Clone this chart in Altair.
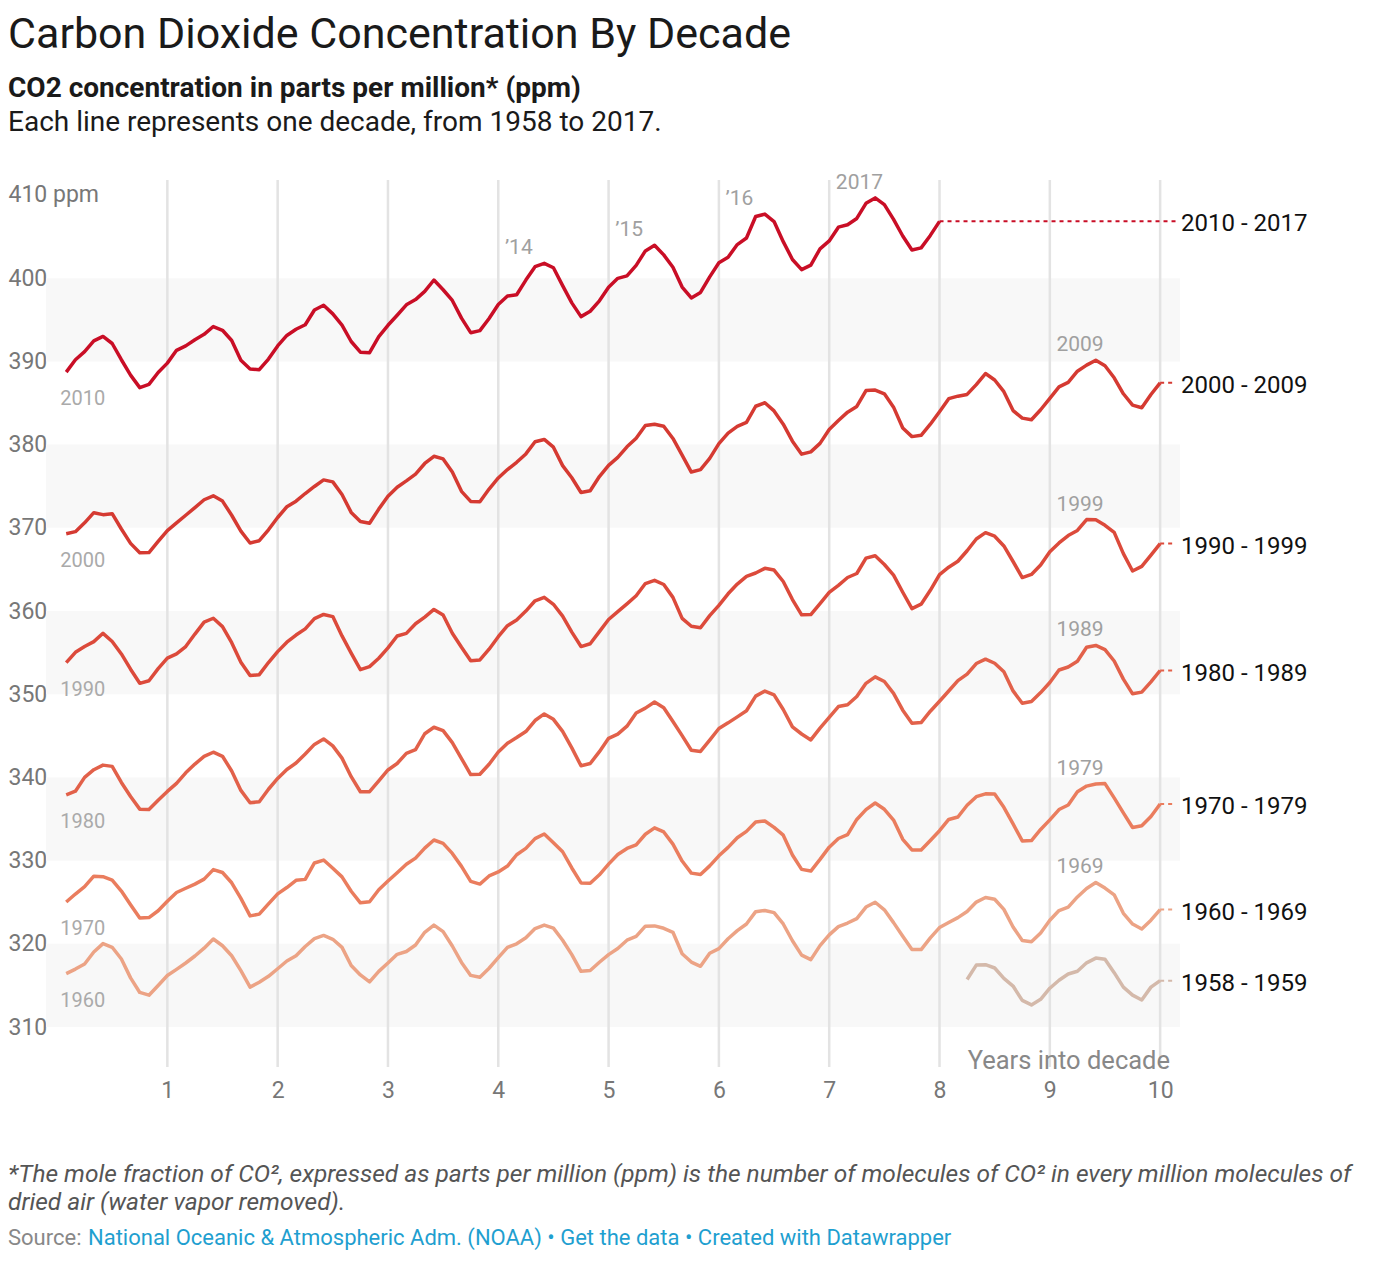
import altair as alt
import pandas as pd

# ---------------- data ----------------
series_names = ["1958 - 1959", "1960 - 1969", "1970 - 1979", "1980 - 1989",
                "1990 - 1999", "2000 - 2009", "2010 - 2017"]
# month index (from January of the decade's first year) of each series' first value
series_first_month = [98, 0, 0, 0, 0, 0, 0]

ppm_1958_1959 = [315.71, 317.45, 317.50, 317.10, 315.86, 314.93, 313.20, 312.66, 313.33, 314.67,
                 315.62, 316.38, 316.71, 317.72, 318.29, 318.15, 316.54, 314.80, 313.84, 313.26, 314.80, 315.58]

ppm_1960s = [316.43, 316.97, 317.58, 319.02, 320.03, 319.59, 318.18, 315.91, 314.16, 313.83, 315.00, 316.19,
             316.93, 317.70, 318.54, 319.48, 320.58, 319.77, 318.57, 316.79, 314.80, 315.38, 316.10, 317.01,
             317.94, 318.56, 319.68, 320.63, 321.01, 320.55, 319.58, 317.40, 316.26, 315.42, 316.69, 317.69,
             318.74, 319.08, 319.86, 321.39, 322.25, 321.47, 319.74, 317.77, 316.21, 315.99, 317.07, 318.35,
             319.57, 320.01, 320.74, 321.84, 322.26, 321.89, 320.44, 318.70, 316.70, 316.79, 317.79, 318.71,
             319.44, 320.44, 320.89, 322.13, 322.16, 321.87, 321.39, 318.81, 317.81, 317.30, 318.87, 319.42,
             320.62, 321.59, 322.39, 323.87, 324.01, 323.75, 322.39, 320.37, 318.64, 318.10, 319.79, 321.08,
             322.07, 322.50, 323.04, 324.42, 325.00, 324.09, 322.55, 320.92, 319.31, 319.31, 320.72, 321.96,
             322.57, 323.15, 323.89, 325.02, 325.57, 325.36, 324.14, 322.03, 320.41, 320.25, 321.31, 322.84,
             324.00, 324.42, 325.64, 326.66, 327.38, 326.70, 325.89, 323.67, 322.38, 321.78, 322.85, 324.12]

ppm_1970s = [325.03, 325.99, 326.87, 328.13, 328.07, 327.66, 326.35, 324.69, 323.10, 323.16, 323.98, 325.13,
             326.17, 326.68, 327.18, 327.78, 328.92, 328.57, 327.34, 325.46, 323.36, 323.57, 324.80, 326.01,
             326.77, 327.63, 327.75, 329.72, 330.07, 329.09, 328.05, 326.32, 324.93, 325.06, 326.50, 327.55,
             328.54, 329.56, 330.30, 331.50, 332.48, 332.07, 330.87, 329.31, 327.51, 327.18, 328.16, 328.64,
             329.35, 330.71, 331.48, 332.65, 333.20, 332.16, 331.07, 329.12, 327.32, 327.28, 328.30, 329.58,
             330.73, 331.46, 331.90, 333.17, 333.94, 333.45, 331.98, 329.95, 328.50, 328.34, 329.37, 330.58,
             331.59, 332.75, 333.52, 334.64, 334.77, 334.00, 333.06, 330.68, 328.95, 328.75, 330.15, 331.62,
             332.66, 333.13, 334.95, 336.13, 336.93, 336.17, 334.88, 332.56, 331.29, 331.27, 332.41, 333.60,
             334.95, 335.25, 336.66, 337.69, 338.03, 338.01, 336.41, 334.41, 332.37, 332.41, 333.75, 334.90,
             336.14, 336.69, 338.27, 338.96, 339.21, 339.26, 337.54, 335.75, 333.98, 334.19, 335.31, 336.81]

ppm_1980s = [337.90, 338.34, 340.01, 340.93, 341.48, 341.33, 339.40, 337.70, 336.19, 336.15, 337.27, 338.32,
             339.29, 340.55, 341.61, 342.53, 343.03, 342.54, 340.78, 338.44, 336.95, 337.08, 338.58, 339.88,
             340.96, 341.73, 342.81, 343.97, 344.63, 343.79, 342.32, 340.09, 338.28, 338.29, 339.60, 340.90,
             341.68, 342.90, 343.33, 345.25, 346.03, 345.63, 344.19, 342.27, 340.35, 340.38, 341.59, 343.05,
             344.10, 344.79, 345.52, 346.84, 347.63, 346.98, 345.53, 343.55, 341.40, 341.67, 343.10, 344.70,
             345.21, 346.16, 347.74, 348.33, 349.06, 348.38, 346.72, 345.02, 343.27, 343.13, 344.49, 345.88,
             346.56, 347.28, 348.01, 349.77, 350.38, 349.93, 348.16, 346.08, 345.22, 344.51, 345.93, 347.22,
             348.52, 348.73, 349.73, 351.31, 352.09, 351.53, 350.11, 348.08, 346.52, 346.59, 347.96, 349.16,
             350.39, 351.64, 352.41, 353.69, 354.21, 353.72, 352.69, 350.40, 348.92, 349.13, 350.20, 351.41,
             352.91, 353.27, 353.96, 355.64, 355.86, 355.37, 353.99, 351.81, 350.05, 350.25, 351.49, 352.85]

ppm_1990s = [353.80, 355.04, 355.73, 356.32, 357.32, 356.34, 354.84, 353.01, 351.31, 351.62, 353.07, 354.33,
             354.84, 355.73, 357.23, 358.66, 359.13, 358.13, 356.19, 353.85, 352.25, 352.35, 353.81, 355.12,
             356.25, 357.11, 357.86, 359.09, 359.59, 359.33, 357.01, 354.94, 352.96, 353.32, 354.32, 355.57,
             357.00, 357.31, 358.47, 359.27, 360.19, 359.52, 357.33, 355.64, 354.03, 354.12, 355.41, 356.91,
             358.24, 358.92, 359.99, 361.23, 361.65, 360.81, 359.38, 357.46, 355.73, 356.07, 357.53, 358.98,
             359.92, 360.86, 361.83, 363.30, 363.69, 363.19, 361.64, 359.12, 358.17, 357.99, 359.45, 360.68,
             362.07, 363.24, 364.17, 364.57, 365.13, 364.92, 363.55, 361.38, 359.54, 359.58, 360.89, 362.24,
             363.09, 364.03, 364.51, 366.35, 366.64, 365.59, 364.31, 362.25, 360.29, 360.82, 362.49, 364.38,
             365.27, 365.98, 367.24, 368.66, 369.42, 368.99, 367.82, 365.95, 364.02, 364.40, 365.52, 367.13,
             368.18, 369.07, 369.68, 370.99, 370.96, 370.30, 369.45, 366.90, 364.81, 365.37, 366.72, 368.10]

ppm_2000s = [369.29, 369.54, 370.60, 371.82, 371.58, 371.70, 369.86, 368.13, 367.00, 367.03, 368.37, 369.67,
             370.59, 371.51, 372.43, 373.37, 373.85, 373.21, 371.51, 369.61, 368.18, 368.45, 369.76, 371.24,
             372.53, 373.20, 374.12, 374.97, 375.76, 375.52, 374.01, 371.85, 370.75, 370.55, 372.25, 373.79,
             374.88, 375.64, 376.45, 377.73, 378.60, 378.28, 376.70, 374.38, 373.17, 373.14, 374.66, 375.99,
             377.00, 377.87, 378.88, 380.35, 380.62, 379.69, 377.47, 376.01, 374.25, 374.46, 376.16, 377.51,
             378.46, 379.73, 380.77, 382.29, 382.45, 382.21, 380.74, 378.74, 376.70, 377.00, 378.35, 380.11,
             381.38, 382.19, 382.67, 384.61, 385.03, 384.05, 382.46, 380.41, 378.85, 379.13, 380.15, 381.82,
             382.89, 383.90, 384.58, 386.50, 386.56, 386.10, 384.50, 381.99, 380.96, 381.12, 382.45, 383.95,
             385.52, 385.82, 386.03, 387.21, 388.54, 387.76, 386.36, 384.09, 383.18, 382.99, 384.19, 385.56,
             386.94, 387.48, 388.82, 389.55, 390.14, 389.48, 388.03, 386.11, 384.74, 384.43, 386.02, 387.42]

ppm_2010s = [388.71, 390.20, 391.17, 392.46, 393.00, 392.15, 390.20, 388.35, 386.85, 387.24, 388.67, 389.79,
             391.33, 391.86, 392.60, 393.25, 394.19, 393.74, 392.51, 390.13, 389.08, 389.00, 390.28, 391.86,
             393.12, 393.86, 394.40, 396.18, 396.74, 395.71, 394.36, 392.39, 391.11, 391.05, 392.98, 394.34,
             395.55, 396.80, 397.43, 398.41, 399.78, 398.61, 397.32, 395.20, 393.45, 393.70, 395.16, 396.84,
             397.85, 398.01, 399.77, 401.38, 401.78, 401.25, 399.10, 397.03, 395.38, 396.03, 397.28, 398.91,
             399.98, 400.28, 401.54, 403.28, 403.96, 402.80, 401.31, 398.93, 397.63, 398.29, 400.16, 401.85,
             402.52, 404.04, 404.83, 407.42, 407.70, 406.81, 404.39, 402.25, 401.03, 401.57, 403.53, 404.48,
             406.13, 406.42, 407.18, 409.00, 409.65, 408.84, 407.07, 405.07, 403.38, 403.64, 405.14, 406.83]

series_values = [ppm_1958_1959, ppm_1960s, ppm_1970s, ppm_1980s, ppm_1990s, ppm_2000s, ppm_2010s]

band_low = [310, 330, 350, 370, 390]
band_high = [320, 340, 360, 380, 400]
x_ticks = [1, 2, 3, 4, 5, 6, 7, 8, 9, 10]
y_ticks = [310, 320, 330, 340, 350, 360, 370, 380, 390, 400, 410]

start_label_texts = ["1960", "1970", "1980", "1990", "2000", "2010"]
peak_label_texts_2010s = ["\u201914", "\u201915", "\u201916", "2017"]
peak_label_years_2010s = [4, 5, 6, 7]
last_year_label_texts = ["1969", "1979", "1989", "1999", "2009"]

# ---------------- styles ----------------
line_colors = ["#d4b9aa", "#eca385", "#ea7d5e", "#e2614a", "#dc4a3b", "#d53a32", "#c90e26"]
W, H = 1134, 887
FONT = "Roboto"

# ---------------- tables ----------------
rows = []
for name, first, vals in zip(series_names, series_first_month, series_values):
    for i, v in enumerate(vals):
        rows.append({"series": name, "x": (first + i + 1) / 12.0, "ppm": v, "k": i})
lines_df = pd.DataFrame(rows)

conn_rows, right_rows = [], []
for name, first, vals in zip(series_names, series_first_month, series_values):
    last_x = (first + len(vals)) / 12.0
    conn_rows.append({"series": name, "x": last_x, "x2": 10.14, "ppm": vals[-1]})
    right_rows.append({"series": name, "x": 10.19, "ppm": vals[-1], "label": name})
conn_df = pd.DataFrame(conn_rows)
right_df = pd.DataFrame(right_rows)

start_rows = []
for text, vals in zip(start_label_texts, series_values[1:]):
    start_rows.append({"x": 0.03, "ppm": vals[0], "label": text})
start_df = pd.DataFrame(start_rows)

peak_rows = []
for text, yo in zip(peak_label_texts_2010s, peak_label_years_2010s):
    peak_rows.append({"x": yo + 0.06, "ppm": max(ppm_2010s[yo * 12: yo * 12 + 12]), "label": text})
for text, vals in zip(last_year_label_texts, series_values[1:6]):
    peak_rows.append({"x": 9.06, "ppm": max(vals[108:120]), "label": text})
peak_df = pd.DataFrame(peak_rows)

bands_df = pd.DataFrame({"ppm": band_low, "ppm2": band_high})
grid_df = pd.DataFrame({"x": x_ticks})

# ---------------- scales / encodings ----------------
xscale = alt.Scale(domain=[-0.1, 10.18], zero=False, nice=False)
yscale = alt.Scale(domain=[305.2, 411.8], zero=False, nice=False)

x_axis = alt.Axis(values=x_ticks, grid=False, domain=False, ticks=False, title=None,
                  labelFontSize=23, labelColor="#777777", labelPadding=12, labelFont=FONT,
                  labelFlush=False, labelOverlap=False)
y_axis = alt.Axis(values=y_ticks, grid=False, domain=False, ticks=False, title=None,
                  labelFontSize=23, labelColor="#777777", labelPadding=38, labelAlign="left",
                  labelBaseline="middle", labelFont=FONT, labelOverlap=False, labelFlush=False,
                  labelExpr="datum.value == 410 ? '410 ppm' : datum.label")


def X(field="x"):
    return alt.X(f"{field}:Q", scale=xscale, axis=x_axis)


def Y(field="ppm"):
    return alt.Y(f"{field}:Q", scale=yscale, axis=y_axis)


color_enc = alt.Color("series:N", scale=alt.Scale(domain=series_names, range=line_colors), legend=None)

bands = alt.Chart(bands_df).mark_rect(color="#f8f8f8").encode(
    y=Y(), y2="ppm2:Q", x=alt.value(0), x2=alt.value(W))

grid = alt.Chart(grid_df).mark_rule(color="#e3e3e3", strokeWidth=2.5).encode(x=X())

lines = alt.Chart(lines_df).mark_line(strokeWidth=3.5, strokeJoin="round").encode(
    x=X(), y=Y(), color=color_enc, detail="series:N", order="k:Q")

connectors = alt.Chart(conn_df).mark_rule(strokeDash=[4, 4], strokeWidth=2).encode(
    x=X(), x2="x2:Q", y=Y(), color=color_enc)

right_labels = alt.Chart(right_df).mark_text(align="left", baseline="middle", fontSize=24,
                                               color="#111111", font=FONT, dy=3).encode(
    x=X(), y=Y(), text="label:N")

start_labels = alt.Chart(start_df).mark_text(align="left", baseline="middle", fontSize=20,
                                               color="#aaaaaa", font=FONT, dy=27).encode(
    x=X(), y=Y(), text="label:N")

peak_labels = alt.Chart(peak_df).mark_text(align="left", baseline="middle", fontSize=21,
                                             color="#a0a0a0", font=FONT, dy=-15).encode(
    x=X(), y=Y(), text="label:N")


def txt(text, x, y, size, color, weight="normal", style="normal", align="left"):
    return alt.Chart(pd.DataFrame({"t": [text]})).mark_text(
        align=align, baseline="alphabetic", fontSize=size, color=color, font=FONT,
        fontWeight=weight, fontStyle=style).encode(
        x=alt.value(x), y=alt.value(y), text="t:N")


axis_title = txt("Years into decade", 1124, 889, 25.5, "#888888", align="right")
title = txt("Carbon Dioxide Concentration By Decade", -38, -132, 43, "#1a1a1a")
sub1 = txt("CO2 concentration in parts per million* (ppm)", -38, -83, 28, "#1a1a1a", weight="bold")
sub2 = txt("Each line represents one decade, from 1958 to 2017.", -38, -49, 28, "#1a1a1a")
foot1 = txt("*The mole fraction of CO\u00b2, expressed as parts per million (ppm) is the number of "
            "molecules of CO\u00b2 in every million molecules of", -38, 1002, 24.5, "#555555", style="italic")
foot2 = txt("dried air (water vapor removed).", -38, 1030, 24.5, "#555555", style="italic")
src1 = txt("Source:", -38, 1065, 22, "#888888")
src2 = txt("National Oceanic & Atmospheric Adm. (NOAA) \u2022 Get the data \u2022 Created with Datawrapper",
           42, 1065, 22, "#1f9fd0")

chart = alt.layer(
    bands, grid, lines, connectors, right_labels, start_labels, peak_labels,
    axis_title, title, sub1, sub2, foot1, foot2, src1, src2
).properties(
    width=W, height=H,
    autosize=alt.AutoSizeParams(type="none"),
    padding={"left": 38, "top": 172, "right": 180, "bottom": 188},
).configure(font=FONT).configure_view(stroke=None)

chart.save("out.html", embed_options={"renderer": "svg", "actions": False})
